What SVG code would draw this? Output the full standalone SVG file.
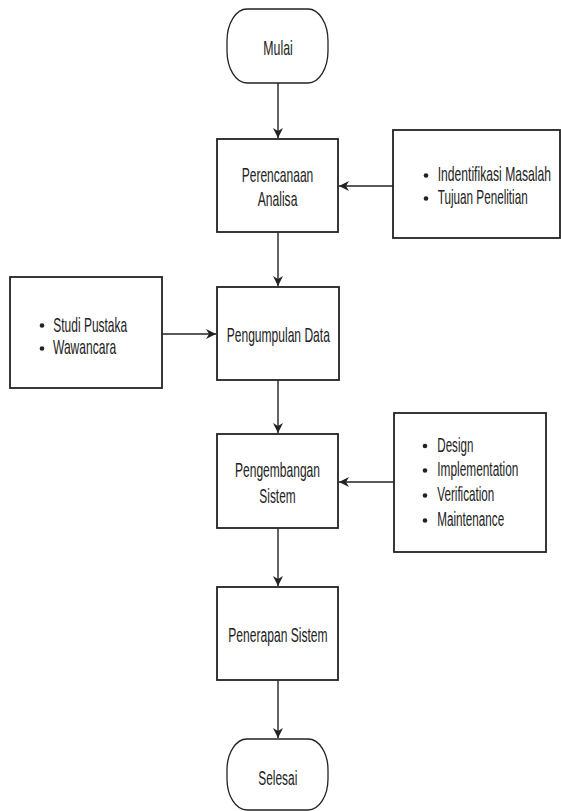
<svg xmlns="http://www.w3.org/2000/svg" width="561" height="811" viewBox="0 0 561 811">
<defs>
<style>
.box{fill:#fff;stroke:#222;stroke-width:1.8}
.term{fill:#fff;stroke:#222;stroke-width:1.3}
.lbl{font-family:"Liberation Sans",Arial,sans-serif;font-size:20px;fill:#222}
.con{fill:none;stroke:#222;stroke-width:1.4}
.dot{fill:#222}
</style>
<marker id="arr" markerUnits="userSpaceOnUse" markerWidth="12" markerHeight="10" refX="10" refY="5" orient="auto">
<path d="M0,0 L10,5 L0,10 L3,5 Z" fill="#222"/>
</marker>
</defs>
<rect width="561" height="811" fill="#fff"/>
<g id="connectors">
<line class="con" x1="278" y1="83" x2="278" y2="138" marker-end="url(#arr)"/>
<line class="con" x1="278" y1="232" x2="278" y2="286" marker-end="url(#arr)"/>
<line class="con" x1="278" y1="380" x2="278" y2="433" marker-end="url(#arr)"/>
<line class="con" x1="278" y1="528" x2="278" y2="586" marker-end="url(#arr)"/>
<line class="con" x1="278" y1="680" x2="278" y2="738" marker-end="url(#arr)"/>
<line class="con" x1="393" y1="186" x2="339" y2="186" marker-end="url(#arr)"/>
<line class="con" x1="162" y1="334" x2="216" y2="334" marker-end="url(#arr)"/>
<line class="con" x1="394" y1="482" x2="339" y2="482" marker-end="url(#arr)"/>
</g>
<g id="mulai">
<rect class="term" x="227" y="9" width="101" height="74" rx="20" ry="32"/>
<text class="lbl" transform="matrix(0.616 0 0 1 263.3 55)">Mulai</text>
</g>
<g id="perencanaan">
<rect class="box" x="217" y="139" width="121" height="93"/>
<text class="lbl" transform="matrix(0.602 0 0 1 241.7 181.5)">Perencanaan</text>
<text class="lbl" transform="matrix(0.605 0 0 1 257.7 206)">Analisa</text>
</g>
<g id="masalah">
<rect class="box" x="393" y="130" width="167" height="108"/>
<circle class="dot" cx="426" cy="175.5" r="2.3"/>
<circle class="dot" cx="426" cy="198.5" r="2.3"/>
<text class="lbl" transform="matrix(0.607 0 0 1 437.7 180.7)">Indentifikasi Masalah</text>
<text class="lbl" transform="matrix(0.586 0 0 1 437.7 204)">Tujuan Penelitian</text>
</g>
<g id="studi">
<rect class="box" x="10" y="277" width="152" height="111"/>
<circle class="dot" cx="42" cy="325.5" r="2.3"/>
<circle class="dot" cx="42" cy="348.5" r="2.3"/>
<text class="lbl" transform="matrix(0.599 0 0 1 53.3 331.7)">Studi Pustaka</text>
<text class="lbl" transform="matrix(0.602 0 0 1 53 354.3)">Wawancara</text>
</g>
<g id="pengumpulan">
<rect class="box" x="217" y="287" width="122" height="93"/>
<text class="lbl" transform="matrix(0.603 0 0 1 226.7 341.5)">Pengumpulan Data</text>
</g>
<g id="pengembangan">
<rect class="box" x="217" y="434" width="121" height="94"/>
<text class="lbl" transform="matrix(0.602 0 0 1 235 477)">Pengembangan</text>
<text class="lbl" transform="matrix(0.596 0 0 1 259.3 503)">Sistem</text>
</g>
<g id="sdlc">
<rect class="box" x="394" y="413" width="152" height="139"/>
<circle class="dot" cx="425" cy="446" r="2.3"/>
<circle class="dot" cx="425" cy="470.5" r="2.3"/>
<circle class="dot" cx="425" cy="495.5" r="2.3"/>
<circle class="dot" cx="425" cy="520.5" r="2.3"/>
<text class="lbl" transform="matrix(0.579 0 0 1 437.3 451.7)">Design</text>
<text class="lbl" transform="matrix(0.593 0 0 1 437.3 476)">Implementation</text>
<text class="lbl" transform="matrix(0.583 0 0 1 437.3 501)">Verification</text>
<text class="lbl" transform="matrix(0.585 0 0 1 437.3 526)">Maintenance</text>
</g>
<g id="penerapan">
<rect class="box" x="217" y="587" width="121" height="93"/>
<text class="lbl" transform="matrix(0.604 0 0 1 228.3 641.7)">Penerapan Sistem</text>
</g>
<g id="selesai">
<rect class="term" x="227" y="739" width="101" height="71" rx="20" ry="31"/>
<text class="lbl" transform="matrix(0.595 0 0 1 258.3 785)">Selesai</text>
</g>
</svg>
